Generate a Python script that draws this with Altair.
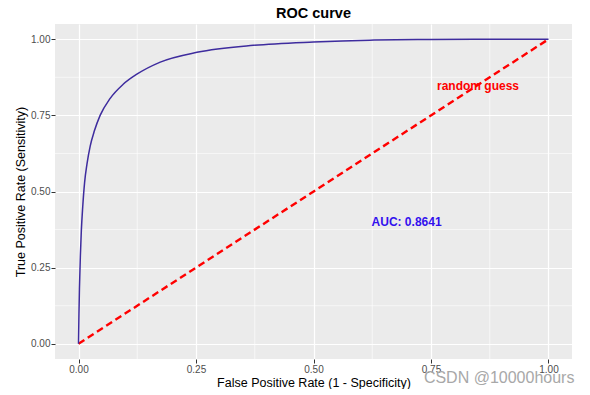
import altair as alt
import pandas as pd

# ROC curve values
fpr = [0, 0.001, 0.002, 0.004, 0.006, 0.009, 0.013, 0.018, 0.025, 0.034, 0.046, 0.067,
       0.095, 0.125, 0.174, 0.252, 0.372, 0.500, 0.620, 0.750, 0.880, 1.0]
tpr = [0, 0.10, 0.18, 0.29, 0.37, 0.45, 0.53, 0.59, 0.65, 0.70, 0.75, 0.805,
       0.852, 0.886, 0.925, 0.957, 0.980, 0.991, 0.997, 0.999, 1.0, 1.0]

diag_x = [0, 1]
diag_y = [0, 1]

major_ticks = [0, 0.25, 0.5, 0.75, 1.0]
minor_ticks = [0.125, 0.375, 0.625, 0.875]

ann_labels = ["random guess", "AUC: 0.8641"]
ann_x = [0.850, 0.698]
ann_y = [0.848, 0.399]
ann_colors = ["#FF0000", "#3311EE"]

wm_label = ["CSDN @10000hours"]
wm_x = [0.895]
wm_y = [-0.112]

FONT = "Liberation Sans"

xs = alt.Scale(domain=[-0.05, 1.05], nice=False, zero=False)
ys = alt.Scale(domain=[-0.05, 1.05], nice=False, zero=False)
xaxis = alt.Axis(values=major_ticks, format=".2f", title="False Positive Rate (1 - Specificity)")
yaxis = alt.Axis(values=major_ticks, format=".2f", title="True Positive Rate (Sensitivity)")


def X(f):
    return alt.X(f, type="quantitative", scale=xs, axis=xaxis)


def Y(f):
    return alt.Y(f, type="quantitative", scale=ys, axis=yaxis)


roc_df = pd.DataFrame({"fpr": fpr, "tpr": tpr})
diag_df = pd.DataFrame({"fpr": diag_x, "tpr": diag_y})
minor_df = pd.DataFrame({"m": minor_ticks})
ann_df = pd.DataFrame({"fpr": ann_x, "tpr": ann_y, "label": ann_labels, "c": ann_colors})
wm_df = pd.DataFrame({"fpr": wm_x, "tpr": wm_y, "label": wm_label})

minor_x = alt.Chart(minor_df).mark_rule(color="white", strokeWidth=0.6).encode(x=X("m"))
minor_y = alt.Chart(minor_df).mark_rule(color="white", strokeWidth=0.6).encode(y=Y("m"))

diag = alt.Chart(diag_df).mark_line(color="#FF0000", strokeWidth=2.4, strokeDash=[7, 4]).encode(
    x=X("fpr"), y=Y("tpr"))

roc = alt.Chart(roc_df).mark_line(color="#3E2C9E", strokeWidth=1.5, interpolate="monotone").encode(
    x=X("fpr"), y=Y("tpr"), order="fpr:Q")

ann = alt.Chart(ann_df).mark_text(font=FONT, fontSize=12, fontWeight="bold").encode(
    x=X("fpr"), y=Y("tpr"), text="label:N", color=alt.Color("c:N", scale=None))

wm = alt.Chart(wm_df).mark_text(font=FONT, fontSize=16, color="#A8A8A8").encode(
    x=X("fpr"), y=Y("tpr"), text="label:N")

chart = alt.layer(minor_x, minor_y, diag, roc, ann, wm).properties(
    width=517,
    height=335,
    background="white",
    title=alt.TitleParams("ROC curve", anchor="middle", fontSize=14.5, fontWeight="bold",
                          font=FONT, color="black", frame="group", offset=2),
    autosize=alt.AutoSizeParams(type="none"),
    padding={"left": 47, "top": 16, "right": 10, "bottom": 30},
).configure_view(
    fill="#EBEBEB", stroke=None
).configure_axis(
    domain=False,
    grid=True,
    gridColor="white",
    gridWidth=1.2,
    tickColor="#333333",
    tickSize=4,
    tickWidth=1,
    labelColor="#4D4D4D",
    labelFont=FONT,
    labelFontSize=10,
    labelPadding=1,
    titleFont=FONT,
    titleFontSize=12.5,
    titleFontWeight="normal",
    titleColor="black",
).configure_axisX(
    titlePadding=2,
).configure_axisY(
    titlePadding=3,
)

chart.save("out.html", embed_options={"renderer": "svg", "actions": False})
